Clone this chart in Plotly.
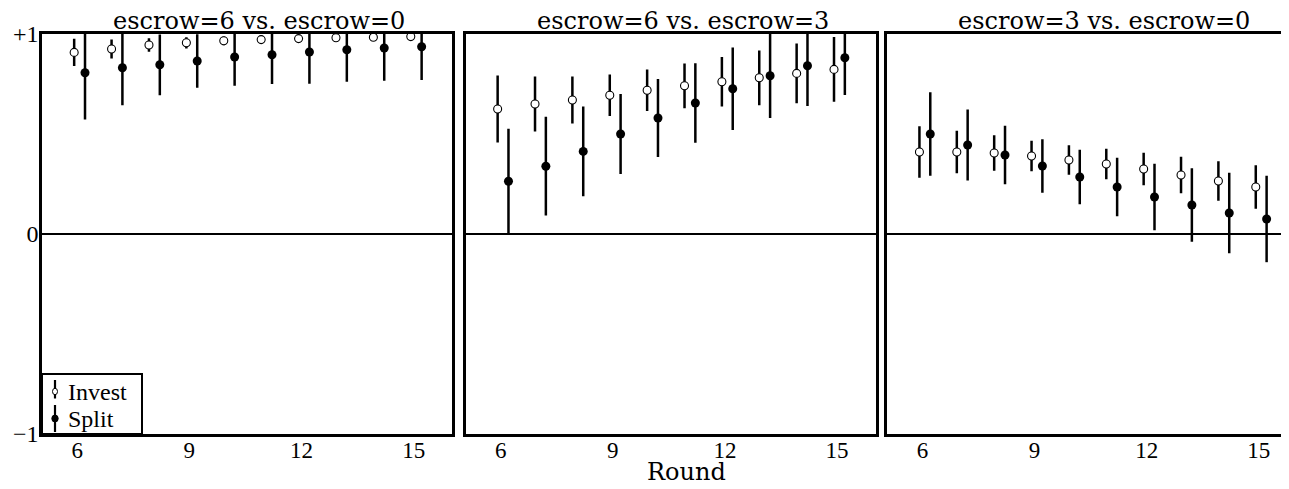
import plotly.graph_objects as go

rounds = [6, 7, 8, 9, 10, 11, 12, 13, 14, 15]
panel_titles = ["escrow=6 vs. escrow=0", "escrow=6 vs. escrow=3", "escrow=3 vs. escrow=0"]
series_names = ["Invest", "Split"]

# panel 1: escrow=6 vs. escrow=0
p1_invest = [0.908, 0.925, 0.945, 0.956, 0.966, 0.972, 0.977, 0.981, 0.984, 0.987]
p1_invest_err = [0.068, 0.048, 0.034, 0.028, 0.022, 0.020, 0.018, 0.016, 0.014, 0.012]
p1_split = [0.806, 0.831, 0.846, 0.865, 0.885, 0.896, 0.910, 0.921, 0.930, 0.936]
p1_split_err = [0.234, 0.187, 0.152, 0.134, 0.144, 0.146, 0.159, 0.160, 0.164, 0.166]

# panel 2: escrow=6 vs. escrow=3
p2_invest = [0.625, 0.650, 0.670, 0.694, 0.719, 0.741, 0.761, 0.781, 0.803, 0.823]
p2_invest_err = [0.167, 0.137, 0.117, 0.104, 0.104, 0.112, 0.124, 0.137, 0.149, 0.162]
p2_split = [0.264, 0.339, 0.413, 0.500, 0.580, 0.655, 0.726, 0.791, 0.841, 0.881]
p2_split_err = [0.262, 0.247, 0.224, 0.200, 0.195, 0.199, 0.206, 0.211, 0.201, 0.186]

# panel 3: escrow=3 vs. escrow=0
p3_invest = [0.410, 0.410, 0.405, 0.390, 0.370, 0.350, 0.325, 0.295, 0.265, 0.235]
p3_invest_err = [0.129, 0.106, 0.089, 0.076, 0.074, 0.076, 0.081, 0.091, 0.099, 0.109]
p3_split = [0.500, 0.445, 0.395, 0.340, 0.285, 0.235, 0.185, 0.145, 0.105, 0.075]
p3_split_err = [0.209, 0.177, 0.146, 0.134, 0.136, 0.146, 0.166, 0.184, 0.201, 0.216]

y_tickvals = [-1, 0, 1]
y_ticktext = ["\u22121", "0", "+1"]
x_tickvals = [6, 9, 12, 15]
x_label = "Round"

panels = [
    (p1_invest, p1_invest_err, p1_split, p1_split_err),
    (p2_invest, p2_invest_err, p2_split, p2_split_err),
    (p3_invest, p3_invest_err, p3_split, p3_split_err),
]

INV_OFF = -0.08
SPL_OFF = 0.21
SERIF = "'Liberation Serif', 'Times New Roman', 'DejaVu Serif', serif"
TICK_FONT = dict(family=SERIF, size=23, color="black")
YTICK_FONT = dict(family=SERIF, size=24, color="black")
TITLE_FONT = dict(family="'DejaVu Serif', serif", size=24, color="black")

fig = go.Figure()
for i, (inv, inv_e, spl, spl_e) in enumerate(panels):
    ax = "" if i == 0 else str(i + 1)
    fig.add_trace(go.Scatter(
        x=[r + INV_OFF for r in rounds], y=inv,
        error_y=dict(type="data", array=inv_e, visible=True, thickness=2.5, width=0, color="black"),
        mode="markers", name=series_names[0], showlegend=False,
        marker=dict(symbol="circle", size=8, color="white", line=dict(color="black", width=1.1)),
        xaxis="x" + ax, yaxis="y" + ax,
    ))
    fig.add_trace(go.Scatter(
        x=[r + SPL_OFF for r in rounds], y=spl,
        error_y=dict(type="data", array=spl_e, visible=True, thickness=2.5, width=0, color="black"),
        mode="markers", name=series_names[1], showlegend=False,
        marker=dict(symbol="circle", size=9, color="black"),
        xaxis="x" + ax, yaxis="y" + ax,
    ))

# the page body adds an 8px offset, so the figure is sized/positioned to compensate
PAGE_OFF = 8
W, H = 1289 - PAGE_OFF, 489 - PAGE_OFF
ML, MT = 42 - PAGE_OFF, 34 - PAGE_OFF
MB = H - MT - 400
plot_w = W - ML
domains = [
    [0.0, 410.3 / plot_w],
    [(465.5 - 42) / plot_w, (875.5 - 42) / plot_w],
    [(887.3 - 42) / plot_w, 1.0],
]
x_ranges = [[5.06, 16.03], [5.06, 16.03], [5.06, 5.06 + (1289 - 887.3) / 37.37]]

layout = dict(
    width=W, height=H,
    margin=dict(l=ML, r=0, t=MT, b=MB, autoexpand=False),
    paper_bgcolor="white", plot_bgcolor="white",
    showlegend=False,
)
for i in range(3):
    ax = "" if i == 0 else str(i + 1)
    layout["xaxis" + ax] = dict(
        domain=domains[i], range=x_ranges[i], anchor="y" + ax, automargin=False,
        tickvals=x_tickvals, ticks="", showgrid=False, zeroline=False,
        showline=True, linecolor="black", linewidth=2.5, mirror=True,
        tickfont=TICK_FONT, ticklabelstandoff=-6,
    )
    layout["yaxis" + ax] = dict(
        domain=[0, 1], range=[-1, 1], anchor="x" + ax, automargin=False,
        tickvals=y_tickvals, ticktext=y_ticktext, ticks="",
        showticklabels=(i == 0), showgrid=False,
        zeroline=True, zerolinecolor="black", zerolinewidth=2,
        showline=True, linecolor="black", linewidth=2.5, mirror=(i < 2),
        tickfont=YTICK_FONT, ticklabelstandoff=-4,
    )
fig.update_layout(**layout)

# panel titles
for i in range(3):
    ax = "" if i == 0 else str(i + 1)
    fig.add_annotation(
        text=panel_titles[i], xref="x" + ax + " domain", yref="y" + ax + " domain",
        x=0.5 if i < 2 else (410.3 / 2) / (1289 - 887.3), y=1, xanchor="center", yanchor="bottom",
        xshift=12, yshift=-3, showarrow=False, font=TITLE_FONT,
    )

# x axis label
fig.add_annotation(
    text=x_label, xref="paper", yref="paper", x=(686 - 42) / plot_w, y=0,
    xanchor="center", yanchor="bottom", yshift=-(MB - 1), showarrow=False, font=TITLE_FONT,
)

# manual legend in panel 1
lw_dom = 100.0 / 410.3
lh_dom = 60.0 / 400.0
fig.add_shape(type="rect", xref="x domain", yref="y domain", x0=0, x1=lw_dom, y0=0, y1=lh_dom,
              line=dict(color="black", width=2), fillcolor="white", layer="above")
sym_x = 13.0 / 410.3
# Invest symbol
fig.add_shape(type="line", xref="x domain", yref="y domain", x0=sym_x, x1=sym_x,
              y0=(434 - 398.5) / 400, y1=(434 - 380) / 400, line=dict(color="black", width=2.2))
fig.add_shape(type="circle", xref="x domain", yref="y domain", xsizemode="pixel", ysizemode="pixel",
              xanchor=sym_x, yanchor=(434 - 391.5) / 400, x0=-2.5, x1=2.5, y0=-3.2, y1=3.2,
              line=dict(color="black", width=1), fillcolor="white")
# Split symbol
fig.add_shape(type="line", xref="x domain", yref="y domain", x0=sym_x, x1=sym_x,
              y0=(434 - 432) / 400, y1=(434 - 405) / 400, line=dict(color="black", width=2.2))
fig.add_shape(type="circle", xref="x domain", yref="y domain", xsizemode="pixel", ysizemode="pixel",
              xanchor=sym_x, yanchor=(434 - 418.5) / 400, x0=-3.2, x1=3.2, y0=-3.5, y1=3.5,
              line=dict(color="black", width=1), fillcolor="black")
for name, ypix in zip(series_names, [391.5, 418.5]):
    fig.add_annotation(text=name, xref="x domain", yref="y domain", x=(66 - 42) / 410.3,
                       y=(434 - ypix) / 400, xanchor="left", yanchor="middle", showarrow=False,
                       font=dict(family=SERIF, size=24, color="black"))

fig.write_html("out.html")
